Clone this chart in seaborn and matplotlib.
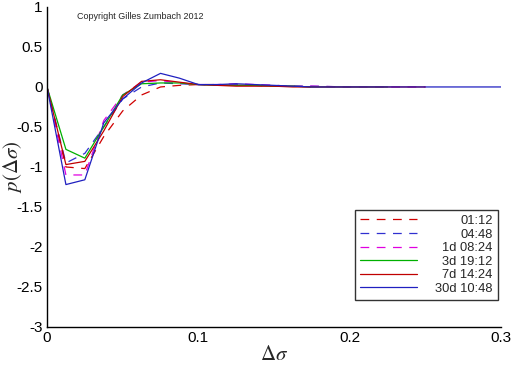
import pandas as pd
import matplotlib
matplotlib.use("Agg")
import matplotlib.pyplot as plt
import seaborn as sns
from matplotlib.ticker import MultipleLocator

# x values of the curves
dsigma = [0, 0.0125, 0.025, 0.0375, 0.05, 0.0625, 0.075, 0.0875, 0.1, 0.1125,
          0.125, 0.1375, 0.15, 0.1625, 0.175, 0.2, 0.225, 0.25, 0.275, 0.3]

# curves
p_0112 = [0, -1.0, -1.02, -0.62, -0.3, -0.1, 0.0, 0.02, 0.03, 0.03, 0.02, 0.02, 0.01, 0.01, 0.0]
p_0448 = [0, -0.95, -0.83, -0.5, -0.15, 0.0, 0.05, 0.04, 0.03, 0.02, 0.03, 0.02, 0.02, 0.01, 0.01, 0.0]
p_1d = [0, -1.1, -1.1, -0.42, -0.1, 0.06, 0.08, 0.05, 0.03, 0.03, 0.04, 0.03, 0.02, 0.01, 0.01, 0.0, 0.0, 0.0]
p_3d = [0, -0.78, -0.89, -0.5, -0.1, 0.04, 0.05, 0.05, 0.03, 0.02, 0.02, 0.02, 0.01, 0.01, 0.0, 0.0, 0.0]
p_7d = [0, -0.97, -0.93, -0.55, -0.12, 0.07, 0.09, 0.06, 0.03, 0.02, 0.01, 0.01, 0.01, 0.0, 0.0, 0.0, 0.0, 0.0]
p_30d = [0, -1.22, -1.16, -0.45, -0.15, 0.05, 0.17, 0.11, 0.03, 0.03, 0.04, 0.03, 0.02, 0.01, 0.0, 0.0, 0.0, 0.0, 0.0, 0.0]

labels = ["01:12", "04:48", "1d 08:24", "3d 19:12", "7d 14:24", "30d 10:48"]
series = [p_0112, p_0448, p_1d, p_3d, p_7d, p_30d]
colors = ["#d00000", "#3030d0", "#e000e0", "#00b000", "#c00000", "#2020c0"]
styles = [(0, (7, 6)), (0, (7, 6)), (0, (7, 6)), "-", "-", "-"]

sns.set_style("white")
plt.rcParams["font.family"] = ["Liberation Sans", "DejaVu Sans"]
plt.rcParams["mathtext.fontset"] = "stix"

fig = plt.figure(figsize=(5.12, 3.66), dpi=100)
ax = fig.add_axes([0.0918, 0.1066, 0.8867, 0.8744])

for lab, vals, col, ls in zip(labels, series, colors, styles):
    df = pd.DataFrame({"x": dsigma[:len(vals)], "y": vals})
    sns.lineplot(data=df, x="x", y="y", ax=ax, color=col, linestyle=ls,
                 linewidth=0.9, label=lab)

ax.set_xlim(0, 0.3)
ax.set_ylim(-3, 1)
ax.xaxis.set_major_locator(MultipleLocator(0.1))
ax.xaxis.set_minor_locator(MultipleLocator(0.02))
ax.yaxis.set_major_locator(MultipleLocator(0.5))
ax.yaxis.set_minor_locator(MultipleLocator(0.1))
ax.xaxis.set_major_formatter(lambda v, pos: f"{v:g}")
ax.yaxis.set_major_formatter(lambda v, pos: f"{v:g}")
ax.tick_params(which="both", direction="in", colors="black", labelsize=11,
               width=1, pad=3)
ax.tick_params(which="major", length=7)
ax.tick_params(which="minor", length=4)

for s in ["top", "right"]:
    ax.spines[s].set_visible(False)
for s in ["left", "bottom"]:
    ax.spines[s].set_color("black")
    ax.spines[s].set_linewidth(1)

ax.set_xlabel(r"$\Delta\sigma$", fontsize=15, labelpad=0)
ax.set_ylabel(r"$p(\Delta\sigma)$", fontsize=15)
ax.yaxis.set_label_coords(-0.05, 0.5)

ax.text(0.066, 0.97, "Copyright Gilles Zumbach 2012", transform=ax.transAxes,
        fontsize=6.5, va="center", ha="left")

leg = ax.legend(loc="lower right", bbox_to_anchor=(0.9934, 0.084), borderaxespad=0,
                frameon=True, fancybox=False, edgecolor="black", fontsize=9.3,
                handlelength=4.4, labelspacing=0.12, borderpad=0.4,
                handletextpad=1.4)
leg.get_frame().set_linewidth(1)

# right-align the legend labels
r = fig.canvas.get_renderer()
widths = [t.get_window_extent(r).width for t in leg.get_texts()]
w = max(widths)
for t, wi in zip(leg.get_texts(), widths):
    t.set_position((w - wi, 0))

fig.savefig("out.png", dpi=100)
